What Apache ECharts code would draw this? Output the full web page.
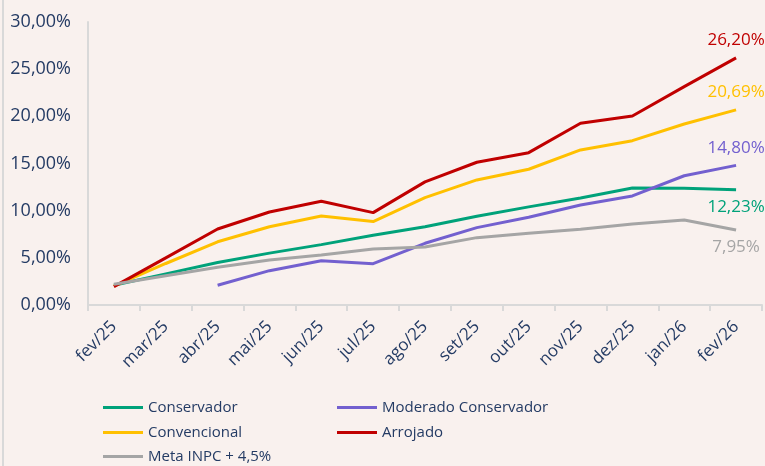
<!DOCTYPE html>
<html lang="pt">
<head>
    <meta charset="UTF-8"/>
    <title>Rentabilidade acumulada</title>
    <style>
        html, body {
            margin: 0;
            padding: 0;
            width: 765px;
            height: 466px;
            background: #F9F1EE;
            overflow: hidden;
        }

        #chart {
            width: 765px;
            height: 466px;
        }
    </style>
</head>
<body>
<div id="chart"></div>
<script src="https://cdn.jsdelivr.net/npm/echarts@6/dist/echarts.min.js"></script>
<script>
    const months = ['fev/25', 'mar/25', 'abr/25', 'mai/25', 'jun/25', 'jul/25', 'ago/25',
        'set/25', 'out/25', 'nov/25', 'dez/25', 'jan/26', 'fev/26'];

    const conservador = [2.1, 3.3, 4.5, 5.5, 6.4, 7.4, 8.3, 9.4, 10.4, 11.35, 12.4, 12.37, 12.23];
    const moderado = [null, null, 2.1, 3.64, 4.7, 4.38, 6.54, 8.2, 9.3, 10.6, 11.56, 13.7, 14.80];
    const convencional = [2.0, 4.4, 6.7, 8.3, 9.44, 8.84, 11.38, 13.26, 14.39, 16.44, 17.42, 19.19, 20.69];
    const arrojado = [1.95, 5.0, 8.06, 9.86, 11.0, 9.79, 13.05, 15.13, 16.15, 19.27, 20.04, 23.15, 26.20];
    const meta = [2.2, 3.1, 4.0, 4.77, 5.3, 5.94, 6.15, 7.14, 7.6, 8.03, 8.59, 9.01, 7.95];

    const textColor = '#243B64';
    const fontFamily = '"Open Sans", "Noto Sans", sans-serif';

    const chart = echarts.init(document.getElementById('chart'));

    const pct = v => v.toFixed(2).replace('.', ',') + '%';

    function createSeries(name, data, color, labelPos) {
        return {
            name: name,
            type: 'line',
            data: data,
            symbol: 'circle',
            symbolSize: 0.01,
            showAllSymbol: true,
            lineStyle: {width: 3, color: color},
            itemStyle: {color: color},
            label: {
                show: true,
                position: labelPos,
                distance: 9,
                color: color,
                fontFamily: fontFamily,
                fontSize: 17,
                formatter: p => p.dataIndex === data.length - 1 ? pct(p.value) : ''
            },
            emphasis: {disabled: true},
            animation: false
        };
    }

    // legend is laid out in two columns, one component per entry
    function legendAt(name, left, top) {
        return {
            data: [name],
            left: left,
            top: top,
            icon: 'rect',
            itemWidth: 40,
            itemHeight: 3,
            padding: 0,
            textStyle: {color: textColor, fontFamily: fontFamily, fontSize: 15},
            selectedMode: false
        };
    }

    const option = {
        backgroundColor: '#F9F1EE',
        grid: {left: 88, right: 3, top: 22, bottom: 161},
        legend: [
            legendAt('Conservador', 103, 400),
            legendAt('Moderado Conservador', 337, 400),
            legendAt('Convencional', 103, 425),
            legendAt('Arrojado', 337, 425),
            legendAt('Meta INPC + 4,5%', 103, 449)
        ],
        xAxis: {
            type: 'category',
            data: months,
            boundaryGap: true,
            axisLine: {lineStyle: {color: '#D9D9D9', width: 2}},
            axisTick: {show: true, length: 6, lineStyle: {color: '#D9D9D9', width: 2}},
            axisLabel: {
                rotate: 45,
                interval: 0,
                margin: 19,
                color: textColor,
                fontFamily: fontFamily,
                fontSize: 17
            }
        },
        yAxis: {
            type: 'value',
            min: 0,
            max: 30,
            interval: 5,
            splitLine: {show: false},
            axisLine: {show: true, lineStyle: {color: '#D9D9D9', width: 2}},
            axisTick: {show: false},
            axisLabel: {
                margin: 17,
                color: textColor,
                fontFamily: fontFamily,
                fontSize: 18,
                formatter: v => pct(v)
            }
        },
        graphic: [{
            type: 'rect',
            shape: {x: 2, y: 0, width: 2, height: 466},
            style: {fill: '#D9D9D9'}
        }],
        series: [
            createSeries('Conservador', conservador, '#00A27A', 'bottom'),
            createSeries('Moderado Conservador', moderado, '#7360CF', 'top'),
            createSeries('Convencional', convencional, '#FFC000', 'top'),
            createSeries('Arrojado', arrojado, '#C00000', 'top'),
            createSeries('Meta INPC + 4,5%', meta, '#A5A5A5', 'bottom')
        ]
    };

    chart.setOption(option);
</script>
</body>
</html>
